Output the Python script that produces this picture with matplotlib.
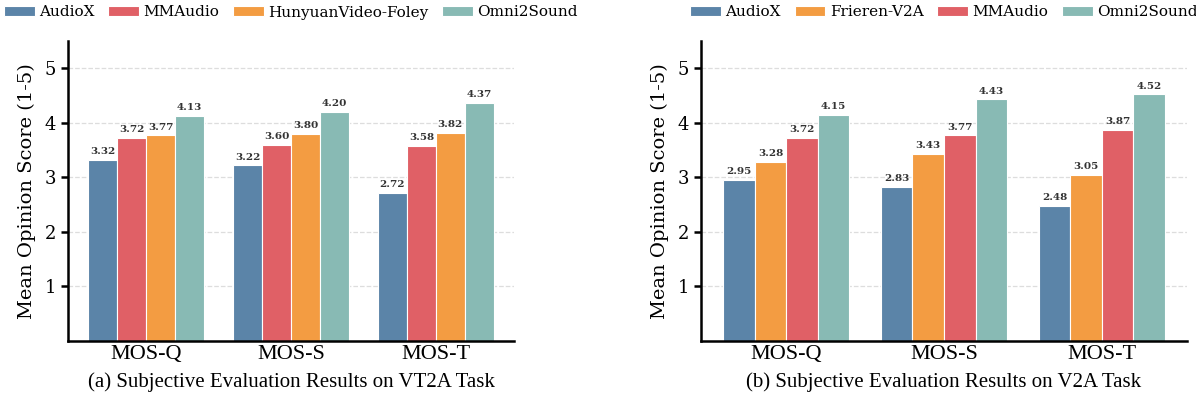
import numpy as np
import matplotlib
matplotlib.use("Agg")
import matplotlib.pyplot as plt

plt.rcParams.update({
    "font.family": "DejaVu Serif",
    "axes.linewidth": 1.8,
})

metrics = ["MOS-Q", "MOS-S", "MOS-T"]

# (a) VT2A task
vt2a_models = ["AudioX", "MMAudio", "HunyuanVideo-Foley", "Omni2Sound"]
vt2a_scores = [
    [3.32, 3.22, 2.72],
    [3.72, 3.60, 3.58],
    [3.77, 3.80, 3.82],
    [4.13, 4.20, 4.37],
]

# (b) V2A task
v2a_models = ["AudioX", "Frieren-V2A", "MMAudio", "Omni2Sound"]
v2a_scores = [
    [2.95, 2.83, 2.48],
    [3.28, 3.43, 3.05],
    [3.72, 3.77, 3.87],
    [4.15, 4.43, 4.52],
]

colors = {
    "AudioX": "#5b84a8",
    "MMAudio": "#e06066",
    "HunyuanVideo-Foley": "#f39c42",
    "Frieren-V2A": "#f39c42",
    "Omni2Sound": "#88bab4",
}

captions = [
    "(a) Subjective Evaluation Results on VT2A Task",
    "(b) Subjective Evaluation Results on V2A Task",
]


def draw(ax, models, scores):
    x = np.arange(len(metrics))
    width = 0.2
    for i, (m, vals) in enumerate(zip(models, scores)):
        bars = ax.bar(x + (i - 1.5) * width, vals, width, label=m,
                      color=colors[m], edgecolor="white", linewidth=0.8)
        for b, v in zip(bars, vals):
            ax.text(b.get_x() + b.get_width() / 2, v + 0.07, f"{v:.2f}",
                    ha="center", va="bottom", fontsize=7.5, fontweight="bold",
                    color="#333333")
    ax.set_ylim(0, 5.5)
    ax.set_yticks([1, 2, 3, 4, 5])
    ax.set_xticks(x)
    ax.set_xticklabels(metrics, family="Liberation Serif", fontsize=16)
    ax.tick_params(axis="y", labelsize=13, length=5, width=1.8)
    ax.tick_params(axis="x", length=0, pad=3)
    ax.set_ylabel("Mean Opinion Score (1-5)", fontsize=14, labelpad=6)
    ax.yaxis.grid(True, linestyle="--", color="#dddddd", linewidth=0.9)
    ax.set_axisbelow(True)
    for s in ["top", "right"]:
        ax.spines[s].set_visible(False)
    ax.legend(loc="center", bbox_to_anchor=(0.5, 1.095), ncol=4,
              frameon=False, fontsize=11, handlelength=2.0,
              handleheight=0.6, handletextpad=0.3, columnspacing=0.9)


fig = plt.figure(figsize=(11.96, 4.04), dpi=100)
ax1 = fig.add_axes([68 / 1196, 63 / 404, 446 / 1196, 300 / 404])
ax2 = fig.add_axes([701 / 1196, 63 / 404, 486 / 1196, 300 / 404])

draw(ax1, vt2a_models, vt2a_scores)
draw(ax2, v2a_models, v2a_scores)

for ax, cap in zip([ax1, ax2], captions):
    pos = ax.get_position()
    fig.text(pos.x0 + pos.width * 0.5, 0.054, cap, ha="center", va="center",
             family="Liberation Serif", fontsize=15)

fig.savefig("out.png", dpi=100)
